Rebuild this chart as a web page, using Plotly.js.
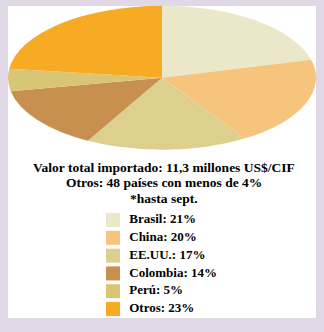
<!DOCTYPE html>
<html>
<head>
<meta charset="utf-8">
<script src="https://cdn.plot.ly/plotly-3.0.1.min.js"></script>
<style>
  html, body { margin: 0; padding: 0; background: #e1d8e6; }
  #wrap { position: relative; width: 324px; height: 332px; overflow: hidden; }
  #base { position: absolute; left: 0; top: 0; width: 324px; height: 332px; }
  #pie { position: absolute; left: 0; top: 2.3px; width: 324px; height: 324px;
         transform-origin: 0 0; transform: scaleY(0.4675); pointer-events: none; }
</style>
</head>
<body>
<div id="wrap">
  <div id="base"></div>
  <div id="pie"></div>
</div>
<script>
// ---- data ----
const categories = ["Brasil", "China", "EE.UU.", "Colombia", "Perú", "Otros"];
const shares = [21, 20, 17, 14, 5, 23];
const colors = ["#ebe7c9", "#f6c47c", "#ddd08e", "#c8904e", "#d9c674", "#f7ab24"];
const noteLines = [
  "Valor total importado: 11,3 millones US$/CIF",
  "Otros: 48 países con menos de 4%",
  "*hasta sept."
];

const serif = "'Liberation Serif', 'Times New Roman', Times, 'DejaVu Serif', serif";

// ---- legend + notes (base layer) ----
const legendLabels = categories.map((c, i) => c + ": " + shares[i] + "%");
const idx = categories.map((c, i) => i);

const legendTrace = {
  type: "scatter",
  mode: "markers+text",
  x: idx.map(() => 0),
  y: idx,
  text: legendLabels.map(t => "  " + t),
  textposition: "middle right",
  textfont: { family: serif, size: 13, color: "#000", weight: "bold" },
  marker: { symbol: "square", size: 14, color: colors, line: { width: 0 } },
  hoverinfo: "skip",
  showlegend: false,
  cliponaxis: false
};

const baseLayout = {
  width: 324, height: 332,
  margin: { l: 0, r: 0, t: 0, b: 0 },
  paper_bgcolor: "#e1d8e6",
  plot_bgcolor: "rgba(0,0,0,0)",
  showlegend: false,
  font: { family: serif },
  xaxis: { range: [-113, 211], visible: false, fixedrange: true },
  yaxis: { range: [6.29, -12.36], visible: false, fixedrange: true },
  shapes: [{
    type: "rect", xref: "paper", yref: "paper", layer: "below",
    x0: 8 / 324, x1: 316 / 324, y0: 1 - 318 / 332, y1: 1 - 6 / 332,
    fillcolor: "#ffffff", line: { width: 0 }
  }],
  annotations: noteLines.map((t, i) => ({
    text: t, xref: "paper", yref: "paper",
    x: 164 / 324, y: 1 - (167 + i * 15.5) / 332,
    xanchor: "center", yanchor: "middle", showarrow: false,
    font: { family: serif, size: 13.5, color: "#000", weight: "bold" }
  }))
};

Plotly.newPlot("base", [legendTrace], baseLayout, { staticPlot: true, displayModeBar: false });

// ---- pie (flattened into an ellipse by CSS) ----
const pieTrace = {
  type: "pie",
  labels: categories,
  values: shares,
  sort: false,
  direction: "clockwise",
  rotation: 0,
  textinfo: "none",
  hoverinfo: "skip",
  marker: { colors: colors, line: { width: 0 } },
  domain: { x: [8 / 324, 316 / 324], y: [0, 1] },
  showlegend: false
};

Plotly.newPlot("pie", [pieTrace], {
  width: 324, height: 324,
  margin: { l: 0, r: 0, t: 0, b: 0 },
  paper_bgcolor: "rgba(0,0,0,0)",
  plot_bgcolor: "rgba(0,0,0,0)",
  showlegend: false
}, { staticPlot: true, displayModeBar: false });
</script>
</body>
</html>
